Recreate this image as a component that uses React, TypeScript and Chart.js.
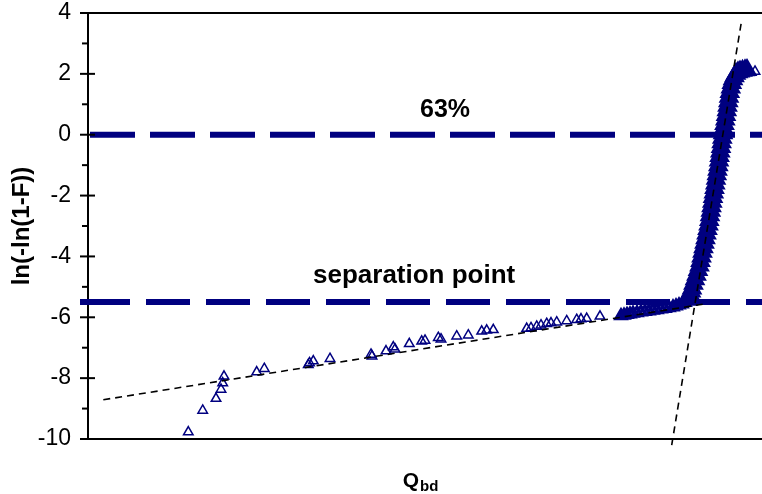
import React, { useEffect, useRef } from "react";
import { Chart, registerables } from "chart.js";

Chart.register(...registerables);

// ---- axis ranges & ticks ----
const X_MIN = 0;
const X_MAX = 67.4;
const Y_MIN = -10;
const Y_MAX = 4;
const yMajorTicks = [-10, -8, -6, -4, -2, 0, 2, 4];
const yMinorTicks = [-9, -7, -5, -3, -1, 1, 3];

// ---- reference levels ----
const level63 = 0;
const separationLevel = -5.5;
const label63 = "63%";
const labelSeparation = "separation point";
const yTitle = "ln(-ln(1-F))";
const xTitleMain = "Q";
const xTitleSub = "bd";

// ---- data: low tail (sparse triangles) ----
const tailX = [10.03, 11.47, 12.8, 13.3, 13.47, 13.6, 16.87, 17.63, 22.03, 22.15, 22.53, 24.2, 28.3, 28.4, 29.8, 30.53, 30.7, 32.13, 33.37, 33.7, 35.03, 35.3, 36.87, 38.03, 39.37, 39.87, 40.53, 43.87, 44.3, 44.87, 45.3, 45.87, 46.3, 46.87, 47.87, 48.87, 49.3, 49.87, 51.2];
const tailY = [-9.77, -9.06, -8.67, -8.37, -8.16, -7.94, -7.8, -7.69, -7.56, -7.5, -7.44, -7.36, -7.22, -7.28, -7.11, -6.98, -7.05, -6.87, -6.79, -6.76, -6.67, -6.72, -6.62, -6.59, -6.46, -6.43, -6.41, -6.37, -6.35, -6.3, -6.26, -6.21, -6.19, -6.16, -6.12, -6.08, -6.06, -6.04, -5.97];

// ---- data: dense cluster near the separation point ----
const clusterX = [53.3, 53.6, 53.9, 54.2, 54.5, 54.9, 55.3, 55.7, 56.1, 56.5, 56.9, 57.3, 57.7, 58.1, 58.5, 58.8, 59.1, 59.4, 59.7, 60.0];
const clusterY = [-5.95, -5.93, -5.91, -5.89, -5.87, -5.85, -5.83, -5.81, -5.79, -5.77, -5.75, -5.73, -5.71, -5.69, -5.66, -5.63, -5.6, -5.56, -5.51, -5.45];

// ---- data: steep main population ----
const steepX = [60.0, 60.1, 60.2, 60.3, 60.4, 60.55, 60.7, 60.85, 61.0, 61.15, 61.25, 61.35, 61.45, 61.55, 61.65, 61.75, 61.85, 61.95, 62.05, 62.13, 62.2, 62.28, 62.35, 62.43, 62.5, 62.58, 62.65, 62.73, 62.8, 62.88, 62.95, 63.03, 63.1, 63.16, 63.23, 63.3, 63.36, 63.43, 63.5, 63.57, 63.65, 63.73, 63.8, 63.88, 63.95, 64.03, 64.1, 64.18, 64.28, 64.38, 64.5, 64.65, 64.8, 65.0, 65.2, 65.45, 65.7, 65.9];
const steepY = [-5.42, -5.35, -5.25, -5.15, -5.05, -4.9, -4.75, -4.6, -4.45, -4.3, -4.15, -4.0, -3.85, -3.7, -3.55, -3.4, -3.25, -3.1, -2.95, -2.8, -2.65, -2.5, -2.35, -2.2, -2.05, -1.9, -1.75, -1.6, -1.45, -1.3, -1.15, -1.0, -0.85, -0.7, -0.55, -0.4, -0.25, -0.1, 0.05, 0.2, 0.35, 0.5, 0.65, 0.8, 0.95, 1.1, 1.25, 1.4, 1.55, 1.7, 1.82, 1.92, 2.0, 2.05, 2.08, 2.1, 2.12, 2.13];
const lastX = [66.7];
const lastY = [2.08];

// ---- fitted lines ----
const lowFitX = [1.53, 61.87];
const lowFitY = [-8.71, -5.55];
const highFitX = [58.37, 65.37];
const highFitY = [-10.2, 3.77];

const NAVY = "#000080";
const FONT = '"Liberation Sans", Arial, Helvetica, sans-serif';

const zip = (xs: number[], ys: number[]) => xs.map((x, i) => ({ x, y: ys[i] }));

const decorPlugin = {
  id: "decor",
  beforeDatasetsDraw(chart: any) {
    const { ctx, chartArea, scales } = chart;
    const y = scales.y;
    const { left, right } = chartArea;
    ctx.save();
    ctx.strokeStyle = NAVY;
    ctx.lineWidth = 6;
    ctx.lineCap = "butt";
    const y0 = y.getPixelForValue(level63);
    ctx.setLineDash([45, 15]);
    ctx.beginPath();
    ctx.moveTo(left + 2, y0);
    ctx.lineTo(right, y0);
    ctx.stroke();
    const ys = y.getPixelForValue(separationLevel);
    ctx.setLineDash([]);
    ctx.beginPath();
    ctx.moveTo(left - 8, ys);
    ctx.lineTo(left + 42, ys);
    ctx.stroke();
    ctx.setLineDash([44, 16]);
    ctx.beginPath();
    ctx.moveTo(left + 58, ys);
    ctx.lineTo(right, ys);
    ctx.stroke();
    ctx.restore();
  },
  afterDraw(chart: any) {
    const { ctx, chartArea, scales } = chart;
    const y = scales.y;
    const { left, right, top, bottom } = chartArea;
    ctx.save();
    ctx.strokeStyle = "#000";
    ctx.lineWidth = 2;
    ctx.setLineDash([]);
    ctx.beginPath();
    ctx.moveTo(left - 1, top);
    ctx.lineTo(right, top);
    ctx.stroke();
    yMajorTicks.forEach((v) => {
      const p = y.getPixelForValue(v);
      ctx.beginPath();
      ctx.moveTo(left - 8, p);
      ctx.lineTo(left + 7, p);
      ctx.stroke();
    });
    yMinorTicks.forEach((v) => {
      const p = y.getPixelForValue(v);
      ctx.beginPath();
      ctx.moveTo(left - 6, p);
      ctx.lineTo(left, p);
      ctx.stroke();
    });
    ctx.fillStyle = "#000";
    ctx.font = `bold 25px ${FONT}`;
    ctx.textAlign = "center";
    ctx.textBaseline = "alphabetic";
    ctx.fillText(label63, left + 357, y.getPixelForValue(level63) - 18);
    ctx.textAlign = "left";
    ctx.font = `bold 26px ${FONT}`;
    ctx.fillText(labelSeparation, left + 225, y.getPixelForValue(separationLevel) - 19);
    ctx.save();
    ctx.translate(22, (top + bottom) / 2);
    ctx.rotate(-Math.PI / 2);
    ctx.textAlign = "center";
    ctx.textBaseline = "middle";
    ctx.font = `bold 24px ${FONT}`;
    ctx.fillText(yTitle, 0, 0);
    ctx.restore();
    ctx.font = `bold 21px ${FONT}`;
    ctx.textAlign = "left";
    const qW = ctx.measureText(xTitleMain).width;
    ctx.font = `bold 15px ${FONT}`;
    const sW = ctx.measureText(xTitleSub).width;
    const startX = (left + right) / 2 - 5 - (qW + sW) / 2;
    ctx.font = `bold 21px ${FONT}`;
    ctx.fillText(xTitleMain, startX, bottom + 48);
    ctx.font = `bold 15px ${FONT}`;
    ctx.fillText(xTitleSub, startX + qW + 1, bottom + 52);
    ctx.restore();
  },
};

export default function App() {
  const ref = useRef<HTMLCanvasElement | null>(null);
  useEffect(() => {
    if (!ref.current) return;
    const tri = {
      pointStyle: "triangle",
      backgroundColor: "rgba(0,0,0,0)",
      borderColor: NAVY,
      showLine: false,
    };
    const chart = new Chart(ref.current, {
      type: "scatter",
      data: {
        datasets: [
          {
            data: zip(lowFitX, lowFitY),
            showLine: true,
            borderColor: "#000",
            borderWidth: 1.6,
            borderDash: [7, 5],
            pointRadius: 0,
            fill: false,
          } as any,
          {
            data: zip(highFitX, highFitY),
            showLine: true,
            borderColor: "#000",
            borderWidth: 1.6,
            borderDash: [7, 5],
            pointRadius: 0,
            fill: false,
            clip: { left: 0, top: 0, right: 0, bottom: 8 },
          } as any,
          { ...tri, data: zip(tailX, tailY), pointRadius: 5.5, borderWidth: 1.5 } as any,
          { ...tri, data: zip(lastX, lastY), pointRadius: 5.5, borderWidth: 1.5 } as any,
          { ...tri, data: zip(clusterX, clusterY), pointRadius: 6, borderWidth: 3 } as any,
          { ...tri, data: zip(steepX, steepY), pointRadius: 7.5, borderWidth: 4.5 } as any,
        ],
      },
      options: {
        animation: false,
        responsive: false,
        maintainAspectRatio: false,
        layout: { autoPadding: false, padding: { top: 13, left: 0, right: 0, bottom: 0 } },
        plugins: { legend: { display: false }, tooltip: { enabled: false } },
        scales: {
          x: {
            type: "linear",
            min: X_MIN,
            max: X_MAX,
            grid: { display: false, drawTicks: false },
            border: { display: true, color: "#000", width: 2 },
            ticks: { display: false },
            afterFit: (s: any) => {
              s.height = 55;
              s.paddingLeft = 0;
              s.paddingRight = 0;
            },
          },
          y: {
            type: "linear",
            min: Y_MIN,
            max: Y_MAX,
            grid: { display: false, drawTicks: false },
            border: { display: true, color: "#000", width: 2 },
            ticks: {
              stepSize: 2,
              color: "#000",
              padding: 17,
              font: { family: FONT, size: 23 },
            },
            afterFit: (s: any) => {
              s.width = 88;
              s.paddingTop = 0;
              s.paddingBottom = 0;
            },
          },
        },
      } as any,
      plugins: [decorPlugin],
    });
    return () => chart.destroy();
  }, []);
  return (
    <div style={{ position: "absolute", left: 0, top: 0, width: 762, height: 494, background: "#fff" }}>
      <canvas ref={ref} width={762} height={494} style={{ display: "block" }} />
    </div>
  );
}
